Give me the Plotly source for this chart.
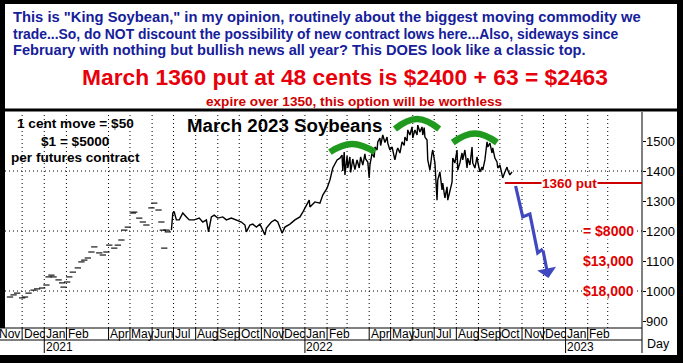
import plotly.graph_objects as go
import pandas as pd

# ------------------------------------------------------------------ data
# thin-traded early part of the contract (short daily dashes)
early_dates = ["2020-11-14", "2020-11-19", "2020-11-24", "2020-12-01", "2020-12-05", "2020-12-10",
               "2020-12-17", "2020-12-22", "2020-12-29", "2021-01-04", "2021-01-07", "2021-01-11",
               "2021-01-14", "2021-01-21", "2021-01-26", "2021-01-28", "2021-02-02", "2021-02-05",
               "2021-02-10", "2021-02-17", "2021-02-22", "2021-02-26", "2021-03-03", "2021-03-08",
               "2021-03-12", "2021-03-19", "2021-03-24", "2021-03-29", "2021-04-02", "2021-04-09",
               "2021-04-14", "2021-04-19", "2021-04-23", "2021-04-28", "2021-05-05", "2021-05-07",
               "2021-05-14", "2021-05-19", "2021-05-24", "2021-05-31", "2021-06-04", "2021-06-10",
               "2021-06-14", "2021-06-16", "2021-06-18", "2021-06-21", "2021-06-23"]
early_prices = [980, 987, 993, 977, 980, 993, 1003, 1007, 1010, 1020, 1047, 1053,
                1047, 1037, 1027, 1013, 1030, 1047, 1063, 1077, 1097, 1103, 1110, 1130,
                1147, 1127, 1120, 1130, 1153, 1143, 1153, 1170, 1203, 1213, 1260, 1263,
                1243, 1230, 1220, 1277, 1293, 1270, 1230, 1203, 1143, 1203, 1197]

# actively traded part: swing highs / lows
prices_2021 = [
    ("2021-06-28", 1203), ("2021-06-30", 1260), ("2021-07-02", 1263), ("2021-07-05", 1237),
    ("2021-07-09", 1237), ("2021-07-14", 1260), ("2021-07-19", 1247), ("2021-07-23", 1237),
    ("2021-07-30", 1237), ("2021-08-06", 1243), ("2021-08-11", 1230), ("2021-08-16", 1237),
    ("2021-08-19", 1197), ("2021-08-23", 1247), ("2021-08-27", 1253), ("2021-09-01", 1243),
    ("2021-09-08", 1247), ("2021-09-13", 1237), ("2021-09-20", 1243), ("2021-09-27", 1237),
    ("2021-10-04", 1230), ("2021-10-09", 1220), ("2021-10-11", 1197), ("2021-10-16", 1220),
    ("2021-10-20", 1223), ("2021-10-25", 1213), ("2021-10-30", 1223), ("2021-11-06", 1187),
    ("2021-11-08", 1210), ("2021-11-15", 1230), ("2021-11-20", 1237), ("2021-11-24", 1230),
    ("2021-11-30", 1193), ("2021-12-04", 1213), ("2021-12-11", 1223), ("2021-12-18", 1237),
    ("2021-12-25", 1247), ("2021-12-29", 1263),
]
prices_2022_h1 = [
    ("2022-01-04", 1287), ("2022-01-07", 1303), ("2022-01-08", 1280), ("2022-01-15", 1297),
    ("2022-01-22", 1293), ("2022-01-26", 1320), ("2022-02-01", 1343), ("2022-02-05", 1370),
    ("2022-02-09", 1410), ("2022-02-15", 1437), ("2022-02-19", 1443), ("2022-02-22", 1453),
    ("2022-02-23", 1400), ("2022-02-25", 1463), ("2022-02-26", 1387), ("2022-03-01", 1450),
    ("2022-03-02", 1410), ("2022-03-05", 1447), ("2022-03-06", 1395), ("2022-03-09", 1440),
    ("2022-03-12", 1405), ("2022-03-15", 1437), ("2022-03-18", 1410), ("2022-03-20", 1447),
    ("2022-03-23", 1420), ("2022-03-26", 1457), ("2022-03-27", 1440), ("2022-03-30", 1430),
    ("2022-04-01", 1377), ("2022-04-02", 1420), ("2022-04-05", 1460), ("2022-04-08", 1445),
    ("2022-04-09", 1480), ("2022-04-12", 1470), ("2022-04-13", 1497), ("2022-04-16", 1510),
    ("2022-04-17", 1485), ("2022-04-20", 1520), ("2022-04-23", 1495), ("2022-04-26", 1513),
    ("2022-04-27", 1493), ("2022-04-30", 1470), ("2022-05-03", 1480), ("2022-05-07", 1437),
    ("2022-05-10", 1470), ("2022-05-11", 1477), ("2022-05-14", 1460), ("2022-05-17", 1497),
    ("2022-05-20", 1485), ("2022-05-21", 1513), ("2022-05-24", 1500), ("2022-05-25", 1537),
    ("2022-05-28", 1520), ("2022-05-31", 1547), ("2022-06-01", 1510), ("2022-06-04", 1537),
    ("2022-06-07", 1520), ("2022-06-08", 1553), ("2022-06-11", 1530), ("2022-06-14", 1547),
    ("2022-06-15", 1520), ("2022-06-17", 1545), ("2022-06-18", 1513), ("2022-06-21", 1503),
    ("2022-06-22", 1437), ("2022-06-25", 1403), ("2022-06-28", 1460), ("2022-06-29", 1470),
]
prices_2022_h2 = [
    ("2022-07-02", 1427), ("2022-07-05", 1303), ("2022-07-06", 1370), ("2022-07-09", 1397),
    ("2022-07-12", 1337), ("2022-07-13", 1360), ("2022-07-16", 1310), ("2022-07-19", 1347),
    ("2022-07-20", 1303), ("2022-07-23", 1337), ("2022-07-26", 1363), ("2022-07-27", 1443),
    ("2022-07-30", 1427), ("2022-08-02", 1470), ("2022-08-03", 1403), ("2022-08-06", 1427),
    ("2022-08-09", 1460), ("2022-08-10", 1437), ("2022-08-13", 1470), ("2022-08-16", 1410),
    ("2022-08-17", 1443), ("2022-08-20", 1420), ("2022-08-23", 1480), ("2022-08-24", 1427),
    ("2022-08-27", 1410), ("2022-08-30", 1447), ("2022-08-31", 1430), ("2022-09-03", 1397),
    ("2022-09-06", 1413), ("2022-09-07", 1403), ("2022-09-10", 1437), ("2022-09-13", 1497),
    ("2022-09-14", 1480), ("2022-09-17", 1493), ("2022-09-20", 1460), ("2022-09-21", 1477),
    ("2022-09-24", 1443), ("2022-09-27", 1430), ("2022-09-28", 1410), ("2022-10-01", 1420),
    ("2022-10-04", 1387), ("2022-10-05", 1377), ("2022-10-08", 1397), ("2022-10-11", 1413),
    ("2022-10-12", 1403), ("2022-10-15", 1387), ("2022-10-18", 1397),
]

# hand-drawn "top" arcs over the three peaks
arc1_dates, arc1_prices = ["2022-02-05", "2022-03-08", "2022-04-09"], [1463, 1490, 1463]
arc2_dates, arc2_prices = ["2022-05-07", "2022-06-07", "2022-07-08"], [1540, 1573, 1540]
arc3_dates, arc3_prices = ["2022-07-27", "2022-08-27", "2022-09-27"], [1495, 1525, 1495]

# projected path (blue arrow)
proj_dates = ["2022-10-23", "2022-11-02", "2022-11-12", "2022-11-23", "2022-11-30", "2022-12-08"]
proj_prices = [1350, 1247, 1257, 1127, 1140, 1043]

put_strike = 1360
put_label = "1360 put"
target_levels = [1200, 1100, 1000]
target_labels = ["= $8000", "$13,000", "$18,000"]

price_ticks = [900, 1000, 1100, 1200, 1300, 1400, 1500]
grid_levels = [1000, 1200, 1400]
year_labels = [("2021-01-01", "2021"), ("2022-01-01", "2022"), ("2023-01-01", "2023")]

header_lines = [
    'This is "King Soybean," in my opinion, routinely about the biggest moving commodity we',
    "trade...So, do NOT discount the possibility of new contract lows here...Also, sideways since",
    "February with nothing but bullish news all year? This DOES look like a classic top.",
]
headline = "March 1360 put at 48 cents is $2400 + 63 = $2463"
subline = "expire over 1350, this option will be worthless"
chart_title = "March 2023 Soybeans"
contract_notes = ["1 cent move = $50", "$1 = $5000", "per futures contract"]

# ------------------------------------------------------------------ layout helpers
W, H = 683, 363
def px(x): return x / W
def py(y): return 1 - y / H

X_START, X_END = "2020-11-07", "2023-04-18"
Y_MIN, Y_MAX = 876.7, 1596.7
PL, PR, PT, PB = 5, 642, 112, 328
MONTH_ROW_B = 340
YEAR_ROW_B = 353
FONT = "Arial, Liberation Sans, sans-serif"

main = prices_2021 + prices_2022_h1 + prices_2022_h2
main_dates = [d for d, _ in main]
main_prices = [p for _, p in main]

fig = go.Figure()

fig.add_trace(go.Scatter(x=early_dates, y=early_prices, mode="markers",
                         marker=dict(symbol="line-ew", size=4.5, line=dict(width=1.1, color="black")),
                         hoverinfo="skip"))
fig.add_trace(go.Scatter(x=main_dates, y=main_prices, mode="lines",
                         line=dict(color="black", width=1.4), hoverinfo="skip"))
for ad, ap in [(arc1_dates, arc1_prices), (arc2_dates, arc2_prices), (arc3_dates, arc3_prices)]:
    fig.add_trace(go.Scatter(x=ad, y=ap, mode="lines",
                             line=dict(color="#1f9a1f", width=6.5, shape="spline", smoothing=1.3),
                             hoverinfo="skip"))
fig.add_trace(go.Scatter(x=proj_dates[:-1], y=proj_prices[:-1], mode="lines",
                         line=dict(color="#4048c0", width=3.2), hoverinfo="skip"))

shapes = []
annotations = []

# dotted gridlines
for lvl in grid_levels:
    shapes.append(dict(type="line", xref="paper", yref="y", x0=px(PL), x1=px(PR), y0=lvl, y1=lvl,
                       line=dict(color="black", width=1, dash="1px,3px"), layer="below"))
month_starts = pd.date_range("2020-12-01", "2023-03-01", freq="MS")
for m in month_starts:
    if m.year == 2021 and m.month == 3:
        continue
    shapes.append(dict(type="line", xref="x", yref="paper", x0=m, x1=m, y0=py(PB), y1=py(PT),
                       line=dict(color="black", width=1, dash="1px,3px"), layer="below"))

# month / year rows
label_months = [m for m in pd.date_range("2020-11-01", "2023-02-01", freq="MS") if m.month != 3]
x0_ts = pd.Timestamp(X_START)
MFONT = dict(family=FONT, size=12, color="black")
for i, m in enumerate(label_months):
    if m >= x0_ts:
        shapes.append(dict(type="line", xref="x", yref="paper", x0=m, x1=m,
                           y0=py(MONTH_ROW_B), y1=py(PB), line=dict(color="black", width=1)))
        annotations.append(dict(x=m, y=py((PB + MONTH_ROW_B) / 2), xref="x", yref="paper",
                                text=m.strftime("%b"), showarrow=False, xanchor="left", xshift=-0.5,
                                yanchor="middle", font=MFONT))
    else:
        nxt = label_months[i + 1]
        annotations.append(dict(x=nxt, y=py((PB + MONTH_ROW_B) / 2), xref="x", yref="paper",
                                text=m.strftime("%b"), showarrow=False, xanchor="right", xshift=-0.5,
                                yanchor="middle", font=MFONT))
for d, t in year_labels:
    shapes.append(dict(type="line", xref="x", yref="paper", x0=d, x1=d,
                       y0=py(YEAR_ROW_B), y1=py(MONTH_ROW_B), line=dict(color="black", width=1)))
    annotations.append(dict(x=d, y=py((MONTH_ROW_B + YEAR_ROW_B) / 2), xref="x", yref="paper", text=t,
                            showarrow=False, xanchor="left", xshift=-0.5, yanchor="middle", font=MFONT))
for yy in (PB, MONTH_ROW_B):
    shapes.append(dict(type="line", xref="paper", yref="paper", x0=0, x1=px(PR), y0=py(yy), y1=py(yy),
                       line=dict(color="black", width=1)))
# price axis line and labels
shapes.append(dict(type="line", xref="paper", yref="paper", x0=px(PR), x1=px(PR),
                   y0=py(YEAR_ROW_B), y1=py(PT), line=dict(color="black", width=1)))
for v in price_ticks:
    annotations.append(dict(x=px(PR + 2), y=v, xref="paper", yref="y", text=str(v), showarrow=False,
                            xanchor="left", yanchor="middle",
                            font=dict(family=FONT, size=13, color="black")))
annotations.append(dict(x=px(645), y=py(344), xref="paper", yref="paper", text="Day", showarrow=False,
                        xanchor="left", yanchor="middle", font=dict(family=FONT, size=12.5, color="black")))

# put strike line and targets
shapes.append(dict(type="line", xref="x", yref="y", x0="2022-10-08", x1=X_END,
                   y0=put_strike, y1=put_strike, line=dict(color="#cc0000", width=2)))
annotations.append(dict(x="2023-01-07", y=put_strike, xref="x", yref="y", text="<b>%s</b>" % put_label,
                        showarrow=False, bgcolor="white", borderpad=0, xanchor="center",
                        font=dict(family=FONT, size=13.5, color="#dd0000")))
for lvl, lab in zip(target_levels, target_labels):
    annotations.append(dict(x=px(635), y=lvl, xref="paper", yref="y", text="<b>%s</b>" % lab,
                            showarrow=False, xanchor="right", yanchor="middle", bgcolor="white",
                            borderpad=0, font=dict(family=FONT, size=14, color="#e00000")))

# arrow head of projection
annotations.append(dict(x=proj_dates[-1], y=proj_prices[-1], ax=proj_dates[-2], ay=proj_prices[-2],
                        xref="x", yref="y", axref="x", ayref="y", text="", showarrow=True,
                        arrowhead=1, arrowsize=1, arrowwidth=3.2, arrowcolor="#4048c0"))

# chart texts
annotations.append(dict(x=px(284), y=py(125), xref="paper", yref="paper", text="<b>%s</b>" % chart_title,
                        showarrow=False, xanchor="center", yanchor="middle",
                        font=dict(family=FONT, size=18.7, color="black")))
for yy, t in zip((123, 141, 158), contract_notes):
    annotations.append(dict(x=px(75), y=py(yy), xref="paper", yref="paper", text="<b>%s</b>" % t,
                            showarrow=False, xanchor="center", yanchor="middle",
                            font=dict(family=FONT, size=13.6, color="black")))

# header
for yy, t, fs in zip((17, 34, 50), header_lines, (14.75, 13.9, 14.6)):
    annotations.append(dict(x=px(11), y=py(yy), xref="paper", yref="paper", text="<b>%s</b>" % t,
                            showarrow=False, xanchor="left", yanchor="middle",
                            font=dict(family=FONT, size=fs, color="#15209a")))
annotations.append(dict(x=px(345), y=py(77), xref="paper", yref="paper", text="<b>%s</b>" % headline,
                        showarrow=False, xanchor="center", yanchor="middle",
                        font=dict(family=FONT, size=22.8, color="#e8000b")))
annotations.append(dict(x=px(354), y=py(101), xref="paper", yref="paper", text="<b>%s</b>" % subline,
                        showarrow=False, xanchor="center", yanchor="middle",
                        font=dict(family=FONT, size=13.6, color="#d00000")))

# borders
def rect(x0, y0, x1, y1):
    return dict(type="rect", xref="paper", yref="paper", x0=px(x0), x1=px(x1), y0=py(y1), y1=py(y0),
                fillcolor="black", line=dict(width=0), layer="above")
shapes += [rect(0, 0, W, 4), rect(0, 0, 5, PB), rect(677, 0, W, H), rect(0, 355, W, H),
           rect(0, 108.5, W, 111.5)]

fig.update_layout(
    width=W, height=H, margin=dict(l=0, r=0, t=0, b=0),
    paper_bgcolor="white", plot_bgcolor="white", showlegend=False,
    xaxis=dict(type="date", range=[X_START, X_END], domain=[px(PL), px(PR)],
               showgrid=False, zeroline=False, showticklabels=False, ticks="", showline=False),
    yaxis=dict(range=[Y_MIN, Y_MAX], domain=[py(PB), py(PT)], side="right",
               tickvals=price_ticks, ticks="outside", ticklen=3, tickcolor="black",
               showticklabels=False, showgrid=False, zeroline=False, showline=False,
               automargin=False),
    shapes=shapes, annotations=annotations,
)

# the page's default 8px body margin would shift the 683x363 figure inside the window
fig.write_html("out.html", config={"displayModeBar": False, "staticPlot": True},
               post_script="document.body.style.margin='0px';")
